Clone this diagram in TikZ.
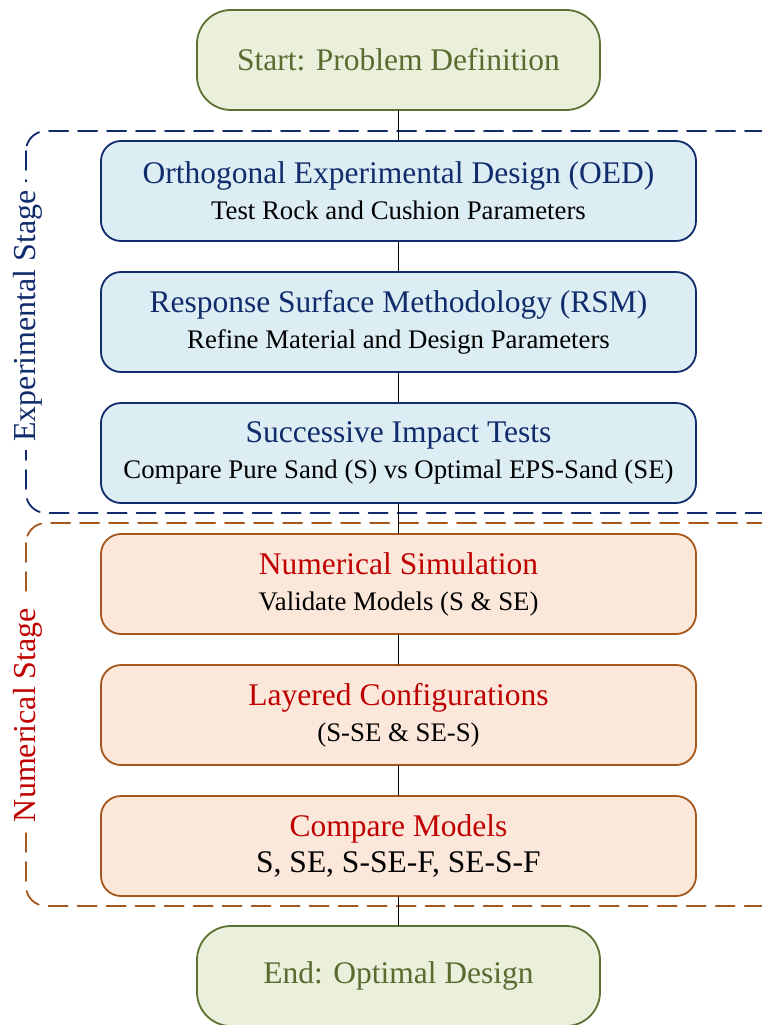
\documentclass[tikz,border=0pt]{standalone}
\usepackage{fontspec}
\setmainfont{Liberation Serif}
\usepackage{tikz}

%Colors
\definecolor{endfill}{HTML}{EAF0DC}
\definecolor{enddraw}{HTML}{5C7232}
\definecolor{endtext}{HTML}{5A6B30}
\definecolor{expfill}{HTML}{DCEDF3}
\definecolor{expdraw}{HTML}{112C6C}
\definecolor{numfill}{HTML}{FBE8DA}
\definecolor{numdraw}{HTML}{A5561C}
\definecolor{numtext}{HTML}{C00000}

\newcommand{\bigtext}{\fontsize{31.5}{36}\selectfont}
\newcommand{\smalltext}{\fontsize{26.8}{36}\selectfont}

\begin{document}
\begin{tikzpicture}
			[x=1pt,y=-1pt,line cap=round,
			%Styles
			terminal/.style={rounded corners=34pt,draw=enddraw,fill=endfill,line width=1.8pt,
				minimum width=403pt,minimum height=100pt,text=endtext,font=\bigtext},
			expbox/.style={rounded corners=20pt,draw=expdraw,fill=expfill,line width=1.8pt,
				minimum width=595pt,minimum height=100pt,align=center,font=\bigtext},
			numbox/.style={expbox,draw=numdraw,fill=numfill},
			stage/.style={rounded corners=20pt,dashed,dash pattern=on 19pt off 10pt,line width=1.8pt},
			stage label/.style={fill=white,rotate=90,font=\fontsize{32}{36}\selectfont,inner xsep=8pt,inner ysep=2pt},
			link/.style={line width=0.8pt}
			]
			\useasboundingbox (0,0) rectangle (762,1025);

			%The graphic
			\node[terminal] (start) at (398.5,60) {Start: Problem Definition};

			\node[expbox] (oed) at (398.5,191)
				{{\color{expdraw}Orthogonal Experimental Design (OED)}\\
				 \smalltext Test Rock and Cushion Parameters};
			\node[expbox] (rsm) at (398.5,322)
				{{\color{expdraw}Response Surface Methodology (RSM)}\\
				 \smalltext Refine Material and Design Parameters};
			\node[expbox] (impact) at (398.5,453)
				{{\color{expdraw}Successive Impact Tests}\\
				 \smalltext Compare Pure Sand (S) vs Optimal EPS-Sand (SE)};

			\node[numbox] (sim) at (398.5,584)
				{{\color{numtext}Numerical Simulation}\\
				 \smalltext Validate Models (S \& SE)};
			\node[numbox] (layer) at (398.5,715)
				{{\color{numtext}Layered Configurations}\\
				 \smalltext (S-SE \& SE-S)};
			\node[numbox] (models) at (398.5,846)
				{{\color{numtext}Compare Models}\\
				 S, SE, S-SE-F, SE-S-F};

			\node[terminal] (end) at (398.5,976) {End: Optimal Design};

			% stage frames
			\draw[stage,draw=expdraw] (26,131) rectangle (790,513);
			\draw[stage,draw=numdraw] (26,523) rectangle (790,906);
			\node[stage label,text=expdraw] (explabel) at (28,316) {Experimental Stage};
			\node[stage label,text=numtext] (numlabel) at (28,715) {Numerical Stage};

			\draw[link] (start) -- (oed);
			\draw[link] (oed) -- (rsm);
			\draw[link] (rsm) -- (impact);
			\draw[link] (impact) -- (sim);
			\draw[link] (sim) -- (layer);
			\draw[link] (layer) -- (models);
			\draw[link] (models) -- (end);
		\end{tikzpicture}
\end{document}
